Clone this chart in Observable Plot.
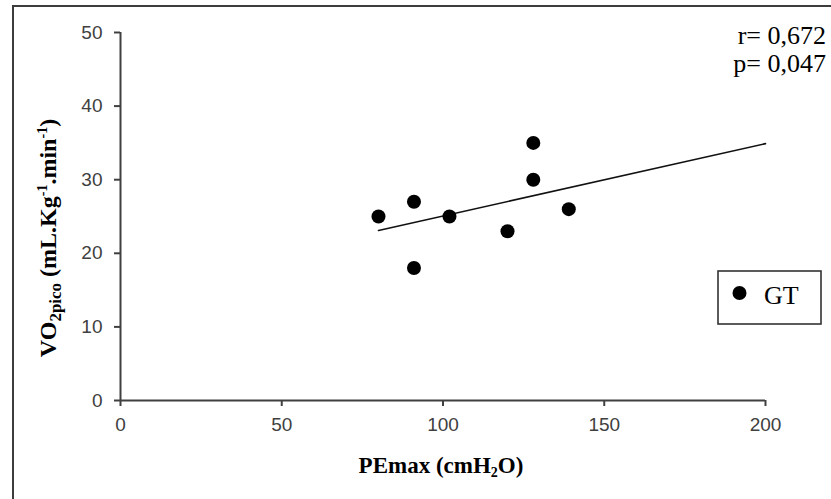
<!DOCTYPE html>
<html>
<head>
<meta charset="utf-8">
<script src="https://cdn.jsdelivr.net/npm/d3@7"></script>
<script src="https://cdn.jsdelivr.net/npm/@observablehq/plot@0.6"></script>
<style>
  html, body { margin: 0; padding: 0; background: #fff; overflow: hidden; }
  #wrap { position: relative; width: 831px; height: 499px; }
  #frame { position: absolute; left: 12px; top: 5px; width: 1000px; height: 1000px;
           border-left: 2px solid #3c3c3c; border-top: 2px solid #3c3c3c; }
  #chart { position: absolute; left: 0; top: 0; }
</style>
</head>
<body>
<div id="wrap"><div id="frame"></div><div id="chart"></div></div>
<script>
// Data
const pemax = [80, 91, 91, 102, 120, 128, 128, 139];
const vo2 = [25, 27, 18, 25, 23, 35, 30, 26];
const trendX = [80, 200];
const trendY = [23.1, 34.9];
const xTicks = [0, 50, 100, 150, 200];
const yTicks = [0, 10, 20, 30, 40, 50];
const seriesName = "GT";
const statLines = ["r= 0,672", "p= 0,047"];

const points = pemax.map((x, i) => ({x, y: vo2[i]}));
const trend = trendX.map((x, i) => ({x, y: trendY[i]}));

const axisColor = "#404040";
const plot = Plot.plot({
  width: 831,
  height: 499,
  marginLeft: 120,
  marginRight: 66,
  marginTop: 32,
  marginBottom: 99,
  style: { background: "transparent", fontFamily: "'Liberation Sans', Arial, sans-serif", fontSize: "19px" },
  x: { domain: [0, 200] },
  y: { domain: [0, 50] },
  marks: [
    Plot.axisX({ ticks: xTicks, tickSize: 6, tickPadding: 11, color: axisColor, strokeWidth: 2, label: null, fontSize: 19 }),
    Plot.axisY({ ticks: yTicks, tickSize: 6, tickPadding: 12, color: axisColor, strokeWidth: 2, label: null, fontSize: 19 }),
    Plot.ruleX([0], { y1: 0, y2: 50, stroke: axisColor, strokeWidth: 2 }),
    Plot.ruleY([0], { x1: 0, x2: 200, stroke: axisColor, strokeWidth: 2 }),
    Plot.line(trend, { x: "x", y: "y", stroke: "#111", strokeWidth: 1.6 }),
    Plot.dot(points, { x: "x", y: "y", r: 7, fill: "#000", stroke: "none" })
  ]
});
document.getElementById("chart").appendChild(plot);

const svg = d3.select(plot);
const serif = "'Liberation Serif', 'Times New Roman', serif";

// X axis label
const xl = svg.append("text")
  .attr("x", 441).attr("y", 473)
  .attr("text-anchor", "middle")
  .attr("font-family", serif).attr("font-weight", "bold").attr("font-size", 23)
  .attr("fill", "#000");
xl.append("tspan").text("PEmax (cmH");
xl.append("tspan").attr("font-size", 14).attr("dy", 4).text("2");
xl.append("tspan").attr("dy", -4).text("O)");

// Y axis label
const yl = svg.append("text")
  .attr("transform", "translate(56,238) rotate(-90)")
  .attr("text-anchor", "middle")
  .attr("font-family", serif).attr("font-weight", "bold").attr("font-size", 24)
  .attr("fill", "#000");
yl.append("tspan").text("VO");
yl.append("tspan").attr("font-size", 17).attr("dy", 5).text("2pico");
yl.append("tspan").attr("dy", -5).text(" (mL.Kg");
yl.append("tspan").attr("font-size", 14).attr("dy", -9).text("-1");
yl.append("tspan").attr("dy", 9).text(".min");
yl.append("tspan").attr("font-size", 14).attr("dy", -9).text("-1");
yl.append("tspan").attr("dy", 9).text(")");

// Stats text
statLines.forEach((t, i) => {
  svg.append("text")
    .attr("x", 826).attr("y", 44 + i * 28)
    .attr("text-anchor", "end")
    .attr("font-family", serif).attr("font-size", 26)
    .attr("fill", "#000")
    .text(t);
});

// Legend
svg.append("rect")
  .attr("x", 718).attr("y", 271).attr("width", 103).attr("height", 53)
  .attr("fill", "#fff").attr("stroke", "#333").attr("stroke-width", 1.6);
svg.append("circle").attr("cx", 739.5).attr("cy", 293).attr("r", 7).attr("fill", "#000");
svg.append("text")
  .attr("x", 764).attr("y", 304)
  .attr("text-anchor", "start")
  .attr("font-family", serif).attr("font-size", 26)
  .attr("fill", "#000")
  .text(seriesName);
</script>
</body>
</html>
